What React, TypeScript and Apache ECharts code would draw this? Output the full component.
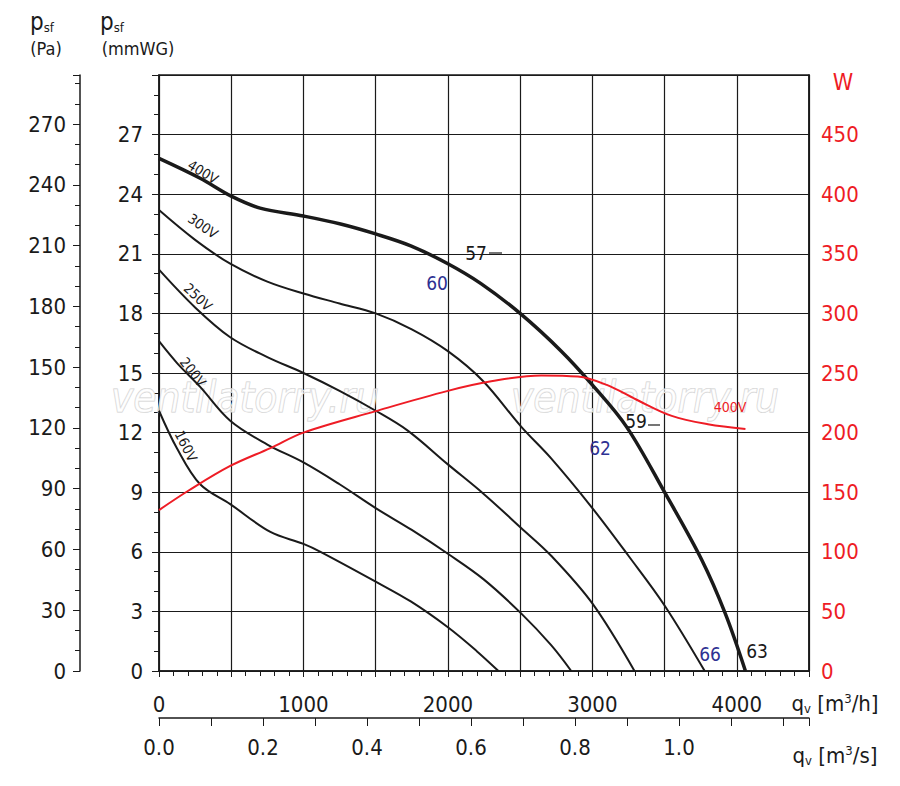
import React, { useEffect, useRef } from 'react';
import * as echarts from 'echarts';

// flow q [m3/h], pressure p [mmWG]
const curve400V = [[0, 25.8], [285, 24.8], [500, 23.9], [700, 23.3], [1000, 22.9], [1257, 22.5], [1500, 22.0], [1743, 21.4], [2000, 20.5], [2229, 19.5], [2500, 18.0], [2785, 16.1], [3000, 14.4], [3236, 12.3], [3500, 9.0], [3757, 5.6], [3920, 2.9], [4060, 0]];
const curve300V = [[0, 23.2], [250, 21.7], [493, 20.5], [750, 19.6], [1000, 19.0], [1250, 18.5], [1500, 18.0], [1750, 17.2], [2000, 16.1], [2243, 14.6], [2507, 12.3], [2715, 10.7], [3000, 8.2], [3250, 5.8], [3500, 3.3], [3778, 0]];
const curve250V = [[0, 20.2], [250, 18.3], [493, 16.8], [750, 15.8], [1000, 15.0], [1250, 14.1], [1500, 13.1], [1722, 12.1], [2000, 10.4], [2250, 8.9], [2507, 7.2], [2715, 5.8], [3000, 3.4], [3292, 0]];
const curve200V = [[0, 16.6], [125, 15.5], [285, 14.3], [493, 12.6], [750, 11.4], [1000, 10.5], [1250, 9.4], [1500, 8.2], [1750, 7.1], [2000, 5.9], [2250, 4.6], [2507, 2.9], [2715, 1.3], [2854, 0]];
const curve160V = [[0, 13.1], [125, 11.2], [285, 9.4], [493, 8.4], [771, 7.0], [1000, 6.4], [1118, 6.0], [1500, 4.5], [1743, 3.5], [2000, 2.2], [2200, 1.0], [2350, 0]];
// power [W] at 400V
const power400V = [[0, 135], [200, 151], [493, 172], [771, 187], [1000, 200], [1500, 218], [2000, 235], [2300, 243], [2646, 248], [2900, 247], [3100, 240], [3300, 228], [3550, 214], [3800, 207], [4060, 203]];

const FONT = '"DejaVu Sans Condensed", "Liberation Sans Narrow", "DejaVu Sans", sans-serif';
const INK = '#1a1a1a';
const RED = '#ee1c25';
const BLUE = '#2e3192';

const App: React.FC = () => {
  const chartRef = useRef<HTMLDivElement>(null);

  useEffect(() => {
    if (!chartRef.current) return;
    const chart = echarts.init(chartRef.current, null, { renderer: 'svg' });

    const line = (data: number[][], width: number, color = INK, yAxisIndex = 0) => ({
      type: 'line',
      data,
      yAxisIndex,
      smooth: 0.35,
      symbol: 'none',
      lineStyle: { color, width },
      z: 5,
    });

    const text = (x: number, y: number, t: string, opts: any = {}) => ({
      type: 'text',
      x,
      y,
      rotation: opts.rotation || 0,
      z: 20,
      style: {
        text: t,
        fill: opts.fill || INK,
        font: `${opts.size || 19}px ${FONT}`,
        align: opts.align || 'center',
        verticalAlign: 'middle',
        rich: opts.rich,
      },
    });

    const sub = { fontSize: 13, fontFamily: FONT, fill: INK, verticalAlign: 'bottom', padding: [8, 0, 0, 0] };
    const sup = { fontSize: 13, fontFamily: FONT, fill: INK, padding: [0, 0, 10, 0] };
    const big = { fontSize: 22, fontFamily: FONT, fill: INK };

    const axisLine = { show: true, onZero: false, lineStyle: { color: INK, width: 1.5 } };

    chart.setOption({
      animation: false,
      grid: { left: 159, right: 91, top: 75, bottom: 115, show: true, borderColor: INK, borderWidth: 1.5 },
      xAxis: [
        {
          type: 'value', min: 0, max: 4500, interval: 500,
          axisLine,
          axisTick: { show: true, length: 6, lineStyle: { color: INK } },
          minorTick: { show: true, splitNumber: 5, length: 5, lineStyle: { color: INK } },
          splitLine: { show: true, lineStyle: { color: INK, width: 1.2 } },
          axisLabel: {
            margin: 22, fontSize: 22, color: INK, fontFamily: FONT,
            formatter: (v: number) => (v % 1000 === 0 && v <= 4000 ? String(v) : ''),
          },
        },
        {
          type: 'value', min: 0, max: 1.25, interval: 0.1, position: 'bottom', offset: 47,
          axisLine,
          axisTick: { show: true, length: 8, lineStyle: { color: INK } },
          splitLine: { show: false },
          axisLabel: {
            margin: 18, fontSize: 22, color: INK, fontFamily: FONT,
            formatter: (v: number) => {
              const k = Math.round(v * 10);
              return k % 2 === 0 && k <= 10 ? (k / 10).toFixed(1) : '';
            },
          },
        },
      ],
      yAxis: [
        {
          type: 'value', min: 0, max: 30, interval: 3, position: 'left',
          axisLine,
          axisTick: { show: true, length: 7, lineStyle: { color: INK } },
          minorTick: { show: true, splitNumber: 3, length: 5, lineStyle: { color: INK } },
          splitLine: { show: true, lineStyle: { color: INK, width: 1.2 } },
          axisLabel: {
            margin: 16, fontSize: 22, color: INK, fontFamily: FONT,
            formatter: (v: number) => (v >= 30 ? '' : String(v)),
          },
        },
        {
          type: 'value', min: 0, max: 30 * 9.80665, interval: 30, position: 'left', offset: 79,
          axisLine,
          axisTick: { show: true, length: 7, lineStyle: { color: INK } },
          minorTick: { show: true, splitNumber: 3, length: 5, lineStyle: { color: INK } },
          splitLine: { show: false },
          axisLabel: {
            margin: 14, fontSize: 22, color: INK, fontFamily: FONT, showMaxLabel: false,
            formatter: (v: number) => (v > 280 ? '' : String(v)),
          },
        },
        {
          type: 'value', min: 0, max: 500, interval: 50, position: 'right',
          axisLine,
          axisTick: { show: false },
          splitLine: { show: false },
          axisLabel: {
            margin: 12, fontSize: 22, color: RED, fontFamily: FONT,
            formatter: (v: number) => (v >= 500 ? '' : String(v)),
          },
        },
      ],
      series: [
        line(curve400V, 3.5),
        line(curve300V, 2),
        line(curve250V, 2),
        line(curve200V, 2),
        line(curve160V, 2),
        line(power400V, 2, RED, 2),
      ],
      graphic: [
        ...[{ x: 245, y: 397 }, { x: 645, y: 397 }].map((p) => ({
          type: 'text', x: p.x, y: p.y, z: 1, silent: true,
          style: {
            text: 'ventilatorry.ru', fill: 'rgba(255,255,255,0.6)', stroke: '#cfcfcf', lineWidth: 1,
            font: `italic 42px ${FONT}`, align: 'center', verticalAlign: 'middle',
          },
        })),
        text(203, 172, '400V', { size: 14, rotation: -0.55 }),
        text(203, 226, '300V', { size: 14, rotation: -0.6 }),
        text(198, 297, '250V', { size: 14, rotation: -0.75 }),
        text(193, 372, '200V', { size: 14, rotation: -0.9 }),
        text(186, 446, '160V', { size: 14, rotation: -1.1 }),
        text(730, 407, '400V', { size: 14, fill: RED }),
        text(476, 253, '57', { size: 19 }),
        text(437, 283, '60', { size: 19, fill: BLUE }),
        text(636, 421, '59', { size: 19 }),
        text(600, 448, '62', { size: 19, fill: BLUE }),
        text(710, 654, '66', { size: 19, fill: BLUE }),
        text(757, 651, '63', { size: 19 }),
        { type: 'line', shape: { x1: 489, y1: 253, x2: 502, y2: 253 }, style: { stroke: INK, lineWidth: 1.2 }, z: 20 },
        { type: 'line', shape: { x1: 648, y1: 425, x2: 660, y2: 425 }, style: { stroke: INK, lineWidth: 1.2 }, z: 20 },
        text(843, 82, 'W', { size: 23, fill: RED }),
        text(42, 22, '{n|p}{s|sf}', { rich: { n: { fontSize: 24, fontFamily: FONT, fill: INK }, s: sub } }),
        text(46, 48, '(Pa)', { size: 18 }),
        text(112, 22, '{n|p}{s|sf}', { rich: { n: { fontSize: 24, fontFamily: FONT, fill: INK }, s: sub } }),
        text(138, 48, '(mmWG)', { size: 18 }),
        text(835, 703, '{n|q}{s|v}{n| [m}{u|3}{n|/h]}', { rich: { n: big, s: sub, u: sup } }),
        text(835, 755, '{n|q}{s|v}{n| [m}{u|3}{n|/s]}', { rich: { n: big, s: sub, u: sup } }),
      ],
    });

    return () => {
      chart.dispose();
    };
  }, []);

  return <div ref={chartRef} style={{ width: 900, height: 786, margin: -8 }}></div>;
};

export default App;
